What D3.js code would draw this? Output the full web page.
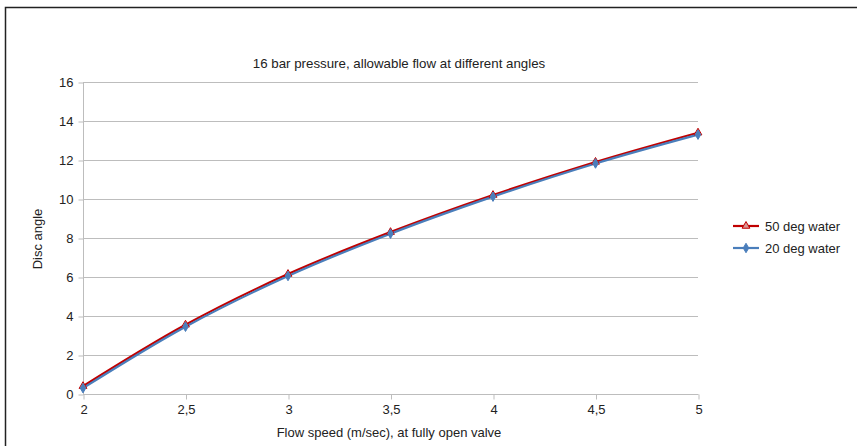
<!DOCTYPE html>
<html>
<head>
<meta charset="utf-8">
<script src="https://cdn.jsdelivr.net/npm/d3@7"></script>
<style>
  body { margin: 0; background: #fff; }
  svg { display: block; font-family: "Liberation Sans", Arial, sans-serif; }
</style>
</head>
<body>
<svg id="chart" width="857" height="446"></svg>
<script>
// flow speed (m/sec)
const speeds = [2, 2.5, 3, 3.5, 4, 4.5, 5];
// disc angle per series
const water50 = [0.4, 3.55, 6.15, 8.3, 10.2, 11.9, 13.4];
const water20 = [0.3, 3.45, 6.05, 8.22, 10.12, 11.82, 13.3];
const xTicks = [2, 2.5, 3, 3.5, 4, 4.5, 5];
const yTicks = [0, 2, 4, 6, 8, 10, 12, 14, 16];

const series = [
  { name: "50 deg water", values: water50, color: "#c00000", marker: "triangle" },
  { name: "20 deg water", values: water20, color: "#4a7ebb", marker: "diamond" }
];

const svg = d3.select("#chart");
const plotL = 83, plotR = 698, plotT = 82, plotB = 394;
const FONT = 13;

const x = d3.scaleLinear().domain([2, 5]).range([plotL, plotR]);
const y = d3.scaleLinear().domain([0, 16]).range([plotB, plotT]);

// outer frame (only top + left visible in the reference)
svg.append("path")
  .attr("d", "M5.5,446 V7.5 H857")
  .attr("fill", "none")
  .attr("stroke", "#222")
  .attr("stroke-width", 1.5);

// gridlines
svg.append("g")
  .selectAll("line")
  .data(yTicks)
  .join("line")
    .attr("x1", plotL).attr("x2", plotR)
    .attr("y1", d => Math.round(y(d)) + 0.5)
    .attr("y2", d => Math.round(y(d)) + 0.5)
    .attr("stroke", "#bdbdbd")
    .attr("stroke-width", 1);

// y axis
const yAxis = svg.append("g")
  .attr("transform", `translate(${plotL + 0.5},0.5)`)
  .call(d3.axisLeft(y).tickValues(yTicks).tickSize(5).tickPadding(5).tickFormat(d3.format("d")));
yAxis.select(".domain").attr("stroke", "#bdbdbd").attr("d", `M0,${plotT}V${plotB}`);
yAxis.selectAll(".tick line").attr("stroke", "#bdbdbd");
yAxis.selectAll("text").attr("font-size", FONT).attr("fill", "#222")
  .attr("font-family", "Liberation Sans, Arial, sans-serif");

// x axis
const xAxis = svg.append("g")
  .attr("transform", `translate(0.5,${Math.round(y(0)) + 0.5})`)
  .call(d3.axisBottom(x).tickValues(xTicks).tickSize(5).tickPadding(5)
    .tickFormat(d => String(d).replace(".", ",")));
xAxis.select(".domain").attr("stroke", "#bdbdbd").attr("d", `M${plotL},0H${plotR}`);
xAxis.selectAll(".tick line").attr("stroke", "#bdbdbd");
xAxis.selectAll("text").attr("font-size", FONT).attr("fill", "#222")
  .attr("font-family", "Liberation Sans, Arial, sans-serif");

// lines
const line = d3.line()
  .x((d, i) => x(speeds[i]))
  .y(d => y(d))
  .curve(d3.curveCatmullRom.alpha(0.5));

const triangle = d3.symbol().type(d3.symbolTriangle).size(26);
const diamond = d3.symbol().type(d3.symbolDiamond).size(26);

series.forEach(s => {
  svg.append("path")
    .datum(s.values)
    .attr("fill", "none")
    .attr("stroke", s.color)
    .attr("stroke-width", 2.2)
    .attr("d", line);
});

series.forEach(s => {
  svg.append("g")
    .selectAll("path")
    .data(s.values)
    .join("path")
      .attr("transform", (d, i) => `translate(${x(speeds[i])},${y(d)})`)
      .attr("d", s.marker === "triangle" ? triangle : diamond)
      .attr("fill", s.marker === "triangle" ? "#d99694" : s.color)
      .attr("stroke", s.color)
      .attr("stroke-width", 1);
});

// title
svg.append("text")
  .attr("x", 399).attr("y", 68)
  .attr("text-anchor", "middle")
  .attr("font-size", 13.3).attr("fill", "#222")
  .text("16 bar pressure, allowable flow at different angles");

// axis titles
svg.append("text")
  .attr("x", 389).attr("y", 437)
  .attr("text-anchor", "middle")
  .attr("font-size", FONT).attr("fill", "#222")
  .text("Flow speed (m/sec), at fully open valve");

svg.append("text")
  .attr("transform", "translate(42,239) rotate(-90)")
  .attr("text-anchor", "middle")
  .attr("font-size", FONT).attr("fill", "#222")
  .text("Disc angle");

// legend
const legend = svg.append("g")
  .selectAll("g")
  .data(series)
  .join("g")
    .attr("transform", (d, i) => `translate(733,${226 + i * 22})`);

legend.append("line")
  .attr("x1", 0).attr("x2", 26)
  .attr("stroke", d => d.color)
  .attr("stroke-width", 2.2);
legend.append("path")
  .attr("transform", "translate(13,0)")
  .attr("d", d => d.marker === "triangle" ? triangle() : diamond())
  .attr("fill", d => d.marker === "triangle" ? "#d99694" : d.color)
  .attr("stroke", d => d.color);
legend.append("text")
  .attr("x", 32).attr("y", 4.5)
  .attr("font-size", FONT).attr("fill", "#222")
  .text(d => d.name);
</script>
</body>
</html>
